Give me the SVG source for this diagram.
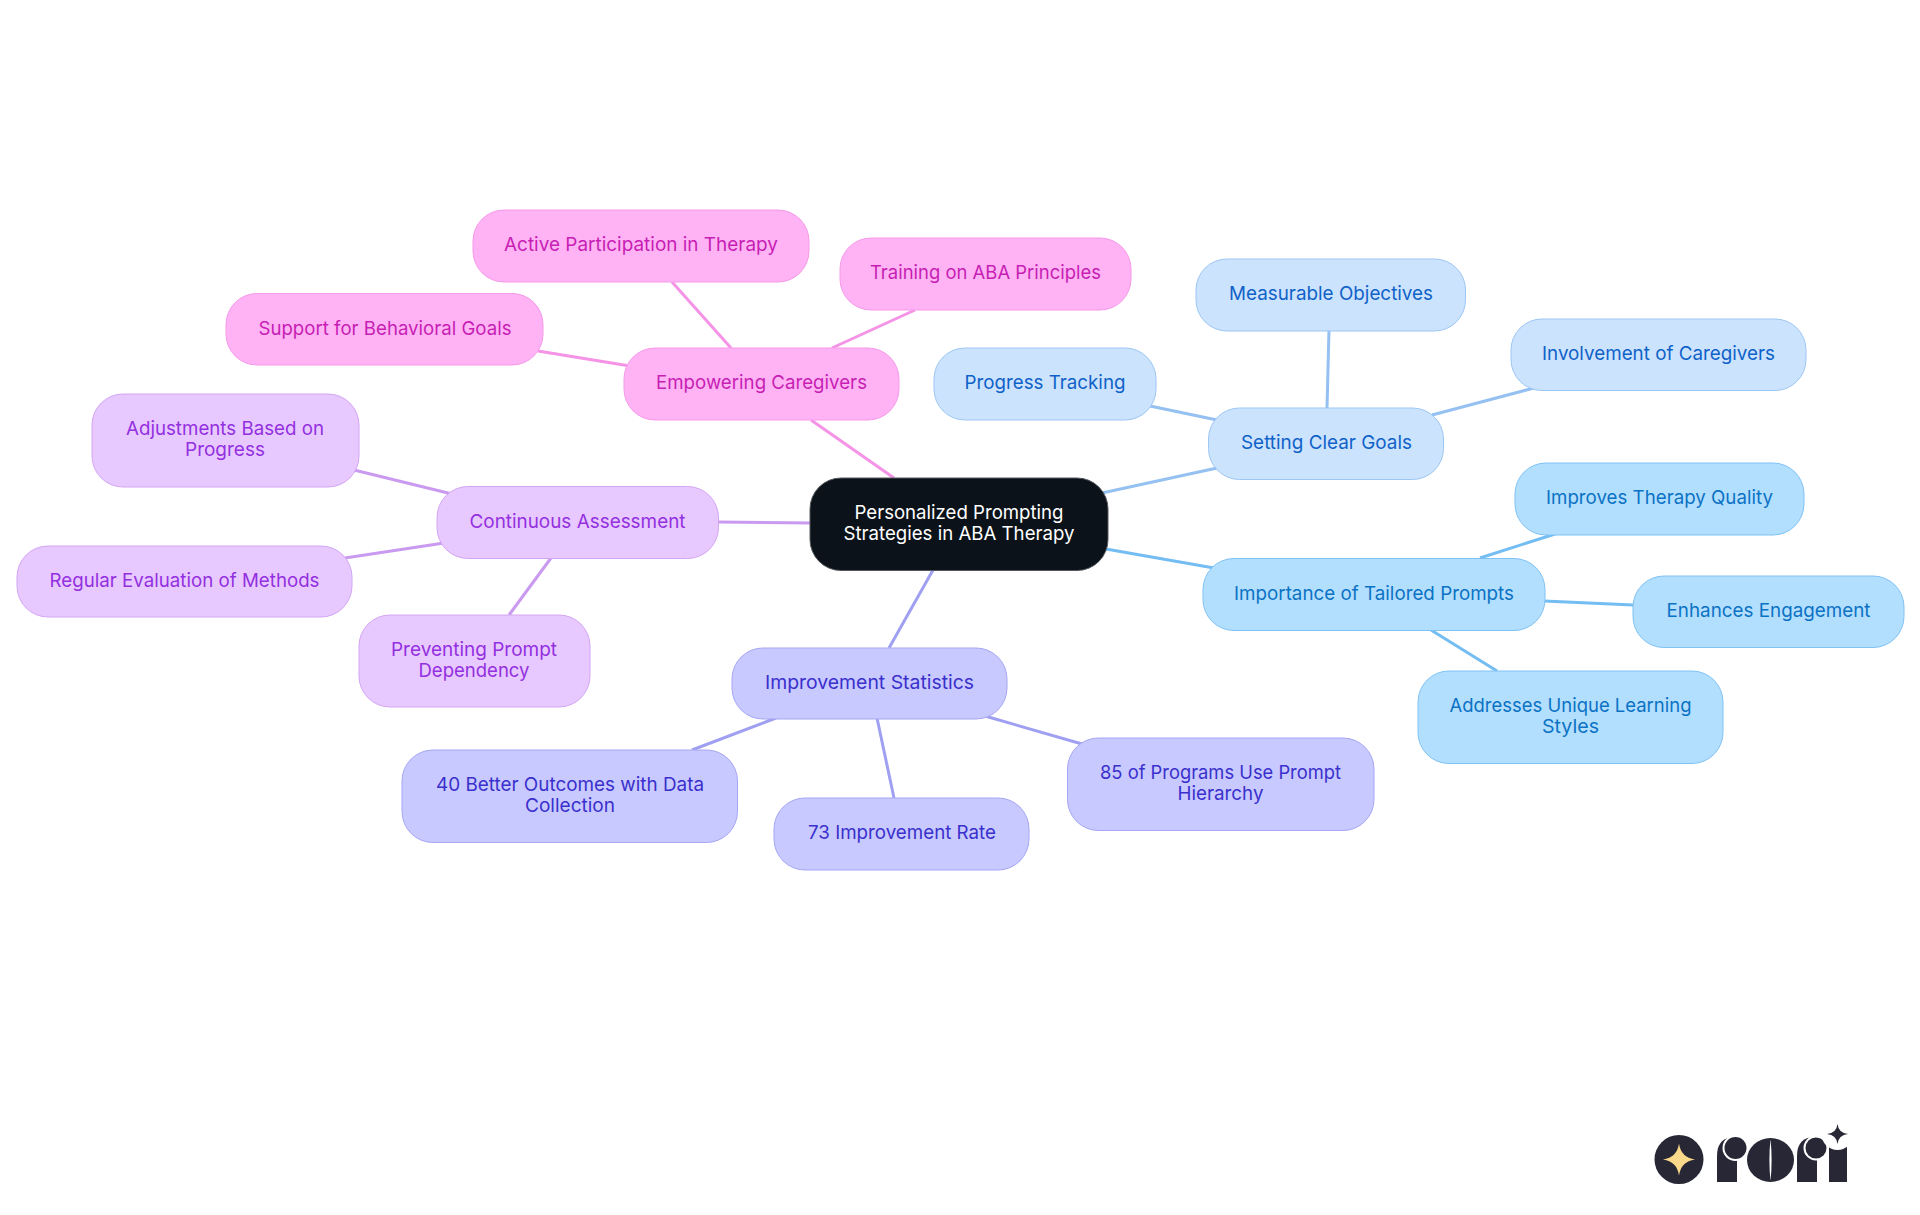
<svg xmlns="http://www.w3.org/2000/svg" width="1920" height="1215" viewBox="0 0 1920 1215">
<style>
text{font-family:"Inter","Noto Sans","Liberation Sans",sans-serif;font-size:19px;text-anchor:middle}
.n{stroke-width:1}
.c{fill:none;stroke-width:3}
.root rect{fill:#0b1219;stroke:#55595e}.root text{fill:#fff}
.pink rect{fill:#ffb3f5;stroke:#f59ae8}.pink text{fill:#c71eb4}
.purple rect{fill:#e8c9ff;stroke:#d3a6f4}.purple text{fill:#9330e0}
.indigo rect{fill:#c8c9ff;stroke:#a6a6f4}.indigo text{fill:#3a30cc}
.blue rect{fill:#cce3fe;stroke:#9cc6f4}.blue text{fill:#0f62c8}
.sky rect{fill:#b3dfff;stroke:#7fc2f4}.sky text{fill:#0b72c4}
.k{fill:#282735}.w{fill:#fff}
</style>
<rect width="1920" height="1215" fill="#fff"/>
<g id="connectors">
<g class="c" stroke="#f593e6"><path d="M894 478L811 420"/><path d="M731 348L672 282"/><path d="M832 348L915 310"/><path d="M630 366L538 351"/></g>
<g class="c" stroke="#c99af0"><path d="M810 523L718 522"/><path d="M452 494L354 470"/><path d="M444 543L345 558"/><path d="M551 558L509 615"/></g>
<g class="c" stroke="#a0a0f2"><path d="M933 570L889 648"/><path d="M776 718L692 750"/><path d="M877 718L894 798"/><path d="M985 716L1082 744"/></g>
<g class="c" stroke="#94c0f2"><path d="M1102 493L1217 468"/><path d="M1217 420L1150 406"/><path d="M1327 408L1329 330"/><path d="M1432 415L1534 388"/></g>
<g class="c" stroke="#74bdf2"><path d="M1106 549L1214 568"/><path d="M1480 558L1555 534"/><path d="M1544 601L1633 605"/><path d="M1431 630L1497 671"/></g>
</g>
<g id="root" class="root"><rect class="n" x="810" y="478" width="298" height="92.500" rx="31"/><text x="959" y="519" textLength="209" lengthAdjust="spacingAndGlyphs">Personalized Prompting</text><text x="959" y="540" textLength="231" lengthAdjust="spacingAndGlyphs">Strategies in ABA Therapy</text></g>
<g id="empowering" class="pink"><rect class="n" x="624" y="348" width="275" height="72" rx="31"/><text x="761.500" y="389" textLength="211" lengthAdjust="spacingAndGlyphs">Empowering Caregivers</text></g>
<g id="active" class="pink"><rect class="n" x="473" y="210" width="336" height="72" rx="31"/><text x="641" y="251" textLength="274" lengthAdjust="spacingAndGlyphs">Active Participation in Therapy</text></g>
<g id="training" class="pink"><rect class="n" x="840" y="238" width="291" height="72" rx="31"/><text x="985.500" y="279" textLength="231" lengthAdjust="spacingAndGlyphs">Training on ABA Principles</text></g>
<g id="support" class="pink"><rect class="n" x="226" y="293.500" width="317" height="71.500" rx="31"/><text x="385" y="334.500" textLength="253" lengthAdjust="spacingAndGlyphs">Support for Behavioral Goals</text></g>
<g id="continuous" class="purple"><rect class="n" x="437" y="486.500" width="281.500" height="72" rx="31"/><text x="577.500" y="528" textLength="216" lengthAdjust="spacingAndGlyphs">Continuous Assessment</text></g>
<g id="adjustments" class="purple"><rect class="n" x="92" y="394" width="267" height="93" rx="31"/><text x="225" y="435" textLength="198" lengthAdjust="spacingAndGlyphs">Adjustments Based on</text><text x="225" y="456" textLength="80" lengthAdjust="spacingAndGlyphs">Progress</text></g>
<g id="regular" class="purple"><rect class="n" x="17" y="546" width="335" height="71" rx="31"/><text x="184.500" y="587" textLength="270" lengthAdjust="spacingAndGlyphs">Regular Evaluation of Methods</text></g>
<g id="preventing" class="purple"><rect class="n" x="359" y="615" width="231" height="92" rx="31"/><text x="474" y="656" textLength="166" lengthAdjust="spacingAndGlyphs">Preventing Prompt</text><text x="474" y="677" textLength="111" lengthAdjust="spacingAndGlyphs">Dependency</text></g>
<g id="improvement" class="indigo"><rect class="n" x="732" y="648" width="275" height="71" rx="31"/><text x="869.500" y="689" textLength="209" lengthAdjust="spacingAndGlyphs">Improvement Statistics</text></g>
<g id="better" class="indigo"><rect class="n" x="402" y="750" width="335.500" height="92.500" rx="31"/><text x="570" y="791" textLength="268" lengthAdjust="spacingAndGlyphs">40 Better Outcomes with Data</text><text x="570" y="812" textLength="90" lengthAdjust="spacingAndGlyphs">Collection</text></g>
<g id="rate" class="indigo"><rect class="n" x="774" y="798" width="255" height="72" rx="31"/><text x="902" y="839" textLength="188" lengthAdjust="spacingAndGlyphs">73 Improvement Rate</text></g>
<g id="programs" class="indigo"><rect class="n" x="1067.500" y="738" width="306.500" height="92.500" rx="31"/><text x="1220.500" y="779" textLength="241" lengthAdjust="spacingAndGlyphs">85 of Programs Use Prompt</text><text x="1220.500" y="800" textLength="86" lengthAdjust="spacingAndGlyphs">Hierarchy</text></g>
<g id="goals" class="blue"><rect class="n" x="1208.500" y="408" width="235" height="71.500" rx="31"/><text x="1326.500" y="449" textLength="171" lengthAdjust="spacingAndGlyphs">Setting Clear Goals</text></g>
<g id="tracking" class="blue"><rect class="n" x="934" y="348" width="222" height="72" rx="31"/><text x="1045" y="389" textLength="161" lengthAdjust="spacingAndGlyphs">Progress Tracking</text></g>
<g id="objectives" class="blue"><rect class="n" x="1196" y="259" width="269.500" height="72" rx="31"/><text x="1331" y="300" textLength="204" lengthAdjust="spacingAndGlyphs">Measurable Objectives</text></g>
<g id="involvement" class="blue"><rect class="n" x="1511" y="319" width="295" height="71.500" rx="31"/><text x="1658.500" y="360" textLength="233" lengthAdjust="spacingAndGlyphs">Involvement of Caregivers</text></g>
<g id="tailored" class="sky"><rect class="n" x="1203" y="558.500" width="342" height="72" rx="31"/><text x="1374" y="599.500" textLength="280" lengthAdjust="spacingAndGlyphs">Importance of Tailored Prompts</text></g>
<g id="quality" class="sky"><rect class="n" x="1515" y="463" width="289" height="72" rx="31"/><text x="1659.500" y="504" textLength="227" lengthAdjust="spacingAndGlyphs">Improves Therapy Quality</text></g>
<g id="engagement" class="sky"><rect class="n" x="1633" y="576" width="271" height="71.500" rx="31"/><text x="1768.500" y="617" textLength="204" lengthAdjust="spacingAndGlyphs">Enhances Engagement</text></g>
<g id="styles" class="sky"><rect class="n" x="1418" y="671" width="305" height="92.500" rx="31"/><text x="1570.500" y="712" textLength="242" lengthAdjust="spacingAndGlyphs">Addresses Unique Learning</text><text x="1570.500" y="733" textLength="57" lengthAdjust="spacingAndGlyphs">Styles</text></g>
<g id="logo">
<circle class="k" cx="1679" cy="1159.500" r="24.500"/>
<path d="M1679 1143.500Q1681 1157.500 1695 1159.500Q1681 1161.500 1679 1175.500Q1677 1161.500 1663 1159.500Q1677 1157.500 1679 1143.500Z" fill="#fbd98a"/>
<path class="k" d="M1717 1182V1156Q1717 1140 1730 1137.500H1737V1182Z"/>
<circle class="w" cx="1735.500" cy="1148" r="13"/>
<circle class="k" cx="1735.500" cy="1148" r="11"/>
<ellipse class="k" cx="1770.500" cy="1160" rx="23.500" ry="22"/>
<path class="w" d="M1770.500 1139Q1768.300 1160 1770.500 1181Q1772.700 1160 1770.500 1139Z"/>
<path class="k" d="M1797 1182V1156Q1797 1140 1810 1137.500H1817V1182Z"/>
<circle class="w" cx="1816" cy="1148" r="12.500"/>
<circle class="k" cx="1816" cy="1148" r="10.500"/>
<rect class="k" x="1829" y="1146" width="18" height="36"/>
<circle class="w" cx="1837.500" cy="1134" r="16"/>
<path class="k" d="M1837.500 1124Q1838.500 1133 1848 1134Q1838.500 1135 1837.500 1144Q1836.500 1135 1827 1134Q1836.500 1133 1837.500 1124Z"/>
</g>
</svg>
